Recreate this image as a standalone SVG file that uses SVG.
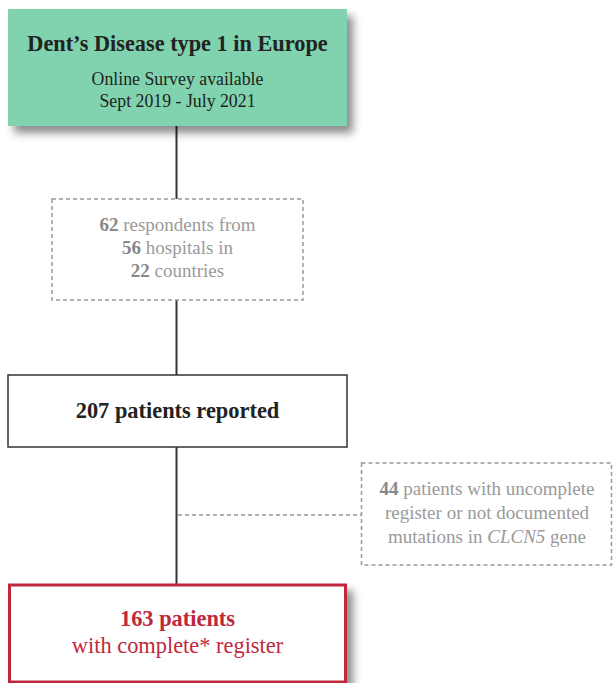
<svg xmlns="http://www.w3.org/2000/svg" width="614" height="683" viewBox="0 0 614 683">
<defs>
<filter id="shadow" x="-10%" y="-10%" width="130%" height="140%">
<feDropShadow dx="6" dy="7" stdDeviation="4" flood-color="#000" flood-opacity="0.45"/>
</filter>
<style>
text{font-family:"Liberation Serif","Times New Roman",serif;text-anchor:middle}
.dark{fill:#222}
.gray{fill:#9a9a9a}
.grayb{fill:#888;font-weight:bold}
.red{fill:#c0283c}
.dash{fill:#fff;stroke:#999;stroke-width:1.5;stroke-dasharray:4 3}
.conn{stroke:#333;stroke-width:2;fill:none}
.conndash{stroke:#999;stroke-width:1.5;stroke-dasharray:4 3;fill:none}
</style>
</defs>
<rect width="614" height="683" fill="#fff"/>
<g id="connectors">
<line class="conn" x1="176.5" y1="126" x2="176.5" y2="199"/>
<line class="conn" x1="176.5" y1="300" x2="176.5" y2="375"/>
<line class="conn" x1="176.5" y1="447" x2="176.5" y2="584"/>
<line class="conndash" x1="178" y1="515" x2="361" y2="515"/>
</g>
<g id="survey">
<rect x="8" y="9" width="339" height="117" fill="#80d3ae" filter="url(#shadow)"/>
<text class="dark" x="177.5" y="51" font-size="22.3" font-weight="bold">Dent’s Disease type 1 in Europe</text>
<text class="dark" x="177.5" y="85" font-size="17.8">Online Survey available</text>
<text class="dark" x="177.5" y="107" font-size="17.8">Sept 2019 - July 2021</text>
</g>
<g id="respondents">
<rect class="dash" x="52" y="199" width="251" height="101"/>
<text class="gray" x="177.5" y="231" font-size="19">
<tspan class="grayb">62</tspan> respondents from</text>
<text class="gray" x="177.5" y="254" font-size="19"><tspan class="grayb">56</tspan> hospitals in</text>
<text class="gray" x="177.5" y="277" font-size="19"><tspan class="grayb">22</tspan> countries</text>
</g>
<g id="reported">
<rect x="8" y="375" width="339" height="72" fill="#fff" stroke="#333" stroke-width="1.5"/>
<text class="dark" x="177.5" y="418" font-size="22.4" font-weight="bold">207 patients reported</text>
</g>
<g id="excluded">
<rect class="dash" x="361.5" y="463" width="250" height="102"/>
<text class="gray" x="487" y="495" font-size="19"><tspan class="grayb">44</tspan> patients with uncomplete</text>
<text class="gray" x="487" y="519" font-size="19">register or not documented</text>
<text class="gray" x="487" y="543" font-size="19">mutations in <tspan font-style="italic">CLCN5</tspan> gene</text>
</g>
<g id="complete">
<rect x="9.5" y="585" width="336" height="97" fill="#fff" stroke="#c0283c" stroke-width="3" filter="url(#shadow)"/>
<text class="red" x="177.5" y="626" font-size="22.4" font-weight="bold">163 patients</text>
<text class="red" x="177.5" y="653" font-size="22.4">with complete* register</text>
</g>
</svg>
